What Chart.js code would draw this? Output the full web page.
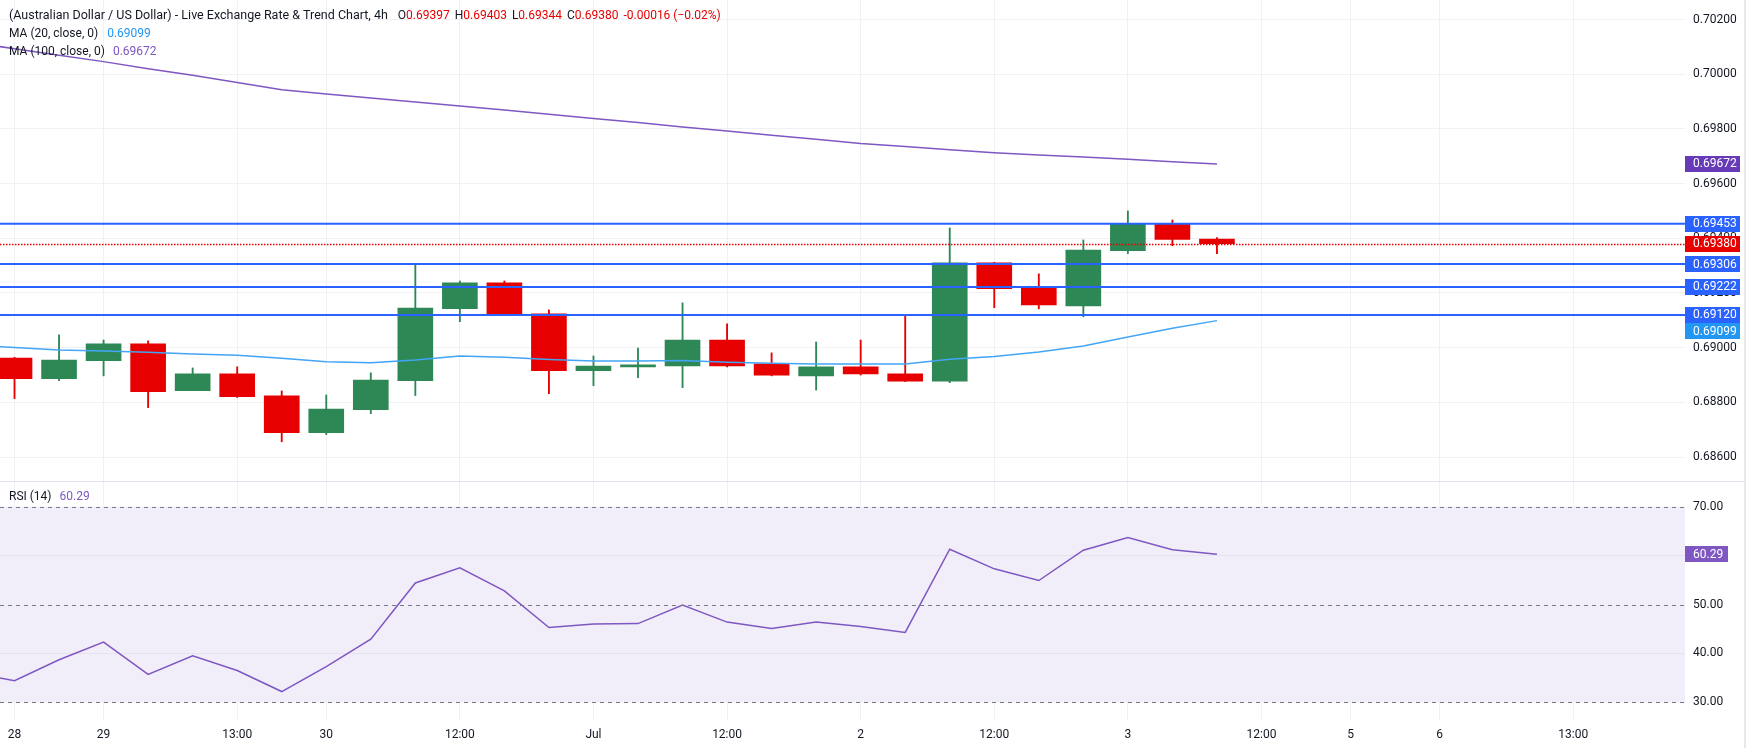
<!DOCTYPE html>
<html>
<head>
<meta charset="utf-8">
<script src="https://cdn.jsdelivr.net/npm/chart.js@4.4.1/dist/chart.umd.min.js"></script>
<style>
    body { margin: 0; background: #ffffff; }
    #wrap { position: relative; width: 1746px; height: 748px; overflow: hidden; }
    #priceChart { position: absolute; left: 0; top: 0; }
    #rsiChart { position: absolute; left: 0; top: 481px; }
</style>
</head>
<body>
<div id="wrap">
    <canvas id="priceChart" width="1746" height="481"></canvas>
    <canvas id="rsiChart" width="1746" height="267"></canvas>
</div>
<script>
// AUD/USD 4h candles, bar 0 = "28"
const opens  = [0.68962, 0.68887, 0.68953, 0.69014, 0.68843, 0.68904, 0.68824, 0.68689, 0.68773, 0.68879,
                0.69143, 0.69237, 0.69124, 0.68916, 0.68930, 0.68933, 0.69028, 0.68941, 0.68897, 0.68930,
                0.68904, 0.68878, 0.69310, 0.69218, 0.69153, 0.69355, 0.69455, 0.69397];
const highs  = [0.68965, 0.69047, 0.69028, 0.69025, 0.68926, 0.68930, 0.68842, 0.68827, 0.68908, 0.69302,
                0.69244, 0.69244, 0.69138, 0.68970, 0.68999, 0.69164, 0.69087, 0.68981, 0.69021, 0.69028,
                0.69121, 0.69438, 0.69312, 0.69270, 0.69394, 0.69500, 0.69467, 0.69403];
const lows   = [0.68814, 0.68879, 0.68897, 0.68781, 0.68843, 0.68818, 0.68656, 0.68682, 0.68759, 0.68825,
                0.69095, 0.69117, 0.68832, 0.68861, 0.68890, 0.68854, 0.68930, 0.68897, 0.68845, 0.68900,
                0.68876, 0.68872, 0.69146, 0.69142, 0.69113, 0.69344, 0.69373, 0.69344];
const closes = [0.68887, 0.68955, 0.69014, 0.68839, 0.68904, 0.68821, 0.68689, 0.68776, 0.68882, 0.69145,
                0.69237, 0.69121, 0.68916, 0.68933, 0.68937, 0.69028, 0.68933, 0.68900, 0.68930, 0.68904,
                0.68878, 0.69310, 0.69216, 0.69156, 0.69357, 0.69455, 0.69396, 0.69380];

// indicator series start one bar before bar 0
const ma20  = [0.69009, 0.69001, 0.68992, 0.68988, 0.68983, 0.68977, 0.68972, 0.68961, 0.68949, 0.68945,
               0.68955, 0.68970, 0.68965, 0.68957, 0.68951, 0.68951, 0.68953, 0.68947, 0.68943, 0.68940,
               0.68940, 0.68940, 0.68958, 0.68968, 0.68984, 0.69006, 0.69039, 0.69071, 0.69099];
const ma100 = [0.70117, 0.70093, 0.70069, 0.70046, 0.70020, 0.69996, 0.69970, 0.69943, 0.69928, 0.69913,
               0.69898, 0.69884, 0.69869, 0.69854, 0.69838, 0.69823, 0.69807, 0.69792, 0.69777, 0.69762,
               0.69747, 0.69736, 0.69724, 0.69713, 0.69705, 0.69697, 0.69689, 0.69680, 0.69672];
const rsi   = [36.1, 34.4, 38.7, 42.3, 35.7, 39.5, 36.5, 32.2, 37.3, 42.9,
               54.4, 57.5, 52.8, 45.3, 46.0, 46.1, 49.9, 46.4, 45.1, 46.4,
               45.5, 44.3, 61.3, 57.3, 54.9, 61.1, 63.7, 61.2, 60.29];
const indicatorStart = -1;

const levels = [0.69453, 0.69306, 0.69222, 0.69120];
const priceTicks = [0.686, 0.688, 0.690, 0.692, 0.694, 0.696, 0.698, 0.700, 0.702];
const rsiTicks = [30, 40, 50, 60, 70];
const rsiDashed = [70, 50, 30];
const timeTickBars = [0, 2, 5, 7, 10, 13, 16, 19, 22, 25, 28, 30, 32, 35];
const timeTickLabels = ['28', '29', '13:00', '30', '12:00', 'Jul', '12:00', '2', '12:00', '3', '12:00', '5', '6', '13:00'];

const UP = '#2e8856';
const DOWN = '#e60000';
const TEXT = '#131722';
const GRID = '#f0f1f4';
const FONT = 'Roboto, "Noto Sans", sans-serif';
const AXIS_W = 61;
const X_MIN = -0.326;
const X_MAX = 37.51;

const candleColors = opens.map((o, i) => closes[i] >= opens[i] ? UP : DOWN);
const indicatorPoints = (arr) => arr.map((v, i) => ({ x: i + indicatorStart, y: v }));

const xTicks = (scale) => { scale.ticks = timeTickBars.map(v => ({ value: v })); };
// keep the plot area flush with the canvas edges
const noPad = (s) => { s.paddingTop = 0; s.paddingBottom = 0; s.paddingLeft = 0; s.paddingRight = 0; };

function drawBadge(ctx, left, yc, w, text, bg) {
    ctx.fillStyle = bg;
    ctx.fillRect(left, Math.round(yc - 8), w, 16);
    ctx.fillStyle = '#ffffff';
    ctx.font = '12px ' + FONT;
    ctx.textAlign = 'left';
    ctx.textBaseline = 'middle';
    ctx.fillText(text, left + 8, yc + 0.5);
}

function drawPieces(ctx, x, y, pieces) {
    ctx.textAlign = 'left';
    ctx.textBaseline = 'middle';
    pieces.forEach(p => {
        if (p.gap) { x += p.gap; return; }
        ctx.font = (p.s || 12) + 'px ' + FONT;
        ctx.fillStyle = p.c;
        ctx.fillText(p.t, x, y);
        x += ctx.measureText(p.t).width;
    });
}

const last = closes.length - 1;

// price pane overlays: levels, last price, badges, legend
const pricePlugin = {
    id: 'priceOverlay',
    afterDatasetsDraw(chart) {
        const ctx = chart.ctx;
        const a = chart.chartArea;
        const y = chart.scales.y;
        ctx.save();
        ctx.beginPath();
        ctx.rect(a.left, a.top, a.right - a.left, a.bottom - a.top);
        ctx.clip();
        ctx.strokeStyle = '#2962ff';
        ctx.lineWidth = 2;
        levels.forEach(v => {
            const py = y.getPixelForValue(v);
            ctx.beginPath();
            ctx.moveTo(a.left, py);
            ctx.lineTo(a.right, py);
            ctx.stroke();
        });
        const lp = Math.round(y.getPixelForValue(closes[last])) + 0.5;
        ctx.strokeStyle = DOWN;
        ctx.lineWidth = 1.3;
        ctx.setLineDash([1.5, 1.5]);
        ctx.beginPath();
        ctx.moveTo(a.left, lp);
        ctx.lineTo(a.right, lp);
        ctx.stroke();
        ctx.restore();
    },
    afterDraw(chart) {
        const ctx = chart.ctx;
        const a = chart.chartArea;
        const y = chart.scales.y;
        ctx.save();
        const badges = [
            { v: ma100[ma100.length - 1], bg: '#673ab7' },
            { v: closes[last], bg: DOWN },
            { v: ma20[ma20.length - 1], bg: '#2196f3' }
        ].concat(levels.map(v => ({ v: v, bg: '#2962ff' })));
        badges.forEach(b => { b.y = y.getPixelForValue(b.v); });
        badges.sort((p, q) => p.y - q.y);
        let prev = -100;
        badges.forEach(b => {
            const yc = Math.max(b.y, prev + 16.5);
            drawBadge(ctx, a.right, yc, 55, b.v.toFixed(5), b.bg);
            prev = yc;
        });

        const chg = closes[last] - closes[last - 1];
        const pct = chg / closes[last - 1] * 100;
        const sign = chg < 0 ? '-' : '+';
        drawPieces(ctx, 9, 16, [
            { t: '(Australian Dollar / US Dollar) - Live Exchange Rate & Trend Chart, 4h', c: TEXT, s: 12.5 }, { gap: 10 },
            { t: 'O', c: TEXT }, { t: opens[last].toFixed(5), c: DOWN }, { gap: 5 },
            { t: 'H', c: TEXT }, { t: highs[last].toFixed(5), c: DOWN }, { gap: 5 },
            { t: 'L', c: TEXT }, { t: lows[last].toFixed(5), c: DOWN }, { gap: 5 },
            { t: 'C', c: TEXT }, { t: closes[last].toFixed(5), c: DOWN }, { gap: 5 },
            { t: sign + Math.abs(chg).toFixed(5) + ' (' + (chg < 0 ? '\u2212' : '+') + Math.abs(pct).toFixed(2) + '%)', c: DOWN }
        ]);
        drawPieces(ctx, 9, 34, [
            { t: 'MA (20, close, 0)', c: TEXT }, { gap: 9 },
            { t: ma20[ma20.length - 1].toFixed(5), c: '#2196f3' }
        ]);
        drawPieces(ctx, 9, 52, [
            { t: 'MA (100, close, 0)', c: TEXT }, { gap: 8 },
            { t: ma100[ma100.length - 1].toFixed(5), c: '#7e57c2' }
        ]);
        ctx.restore();
    }
};

const priceConfig = {
    type: 'bar',
    data: {
        datasets: [
            {
                type: 'line',
                data: indicatorPoints(ma100),
                borderColor: '#7e57c2',
                borderWidth: 1.5,
                pointRadius: 0,
                order: 0
            },
            {
                type: 'line',
                data: indicatorPoints(ma20),
                borderColor: '#42a5f5',
                borderWidth: 1.5,
                pointRadius: 0,
                order: 1
            },
            {
                // candle bodies
                data: opens.map((o, i) => ({ x: i, y: [o, closes[i]] })),
                backgroundColor: candleColors,
                barThickness: 35,
                grouped: false,
                borderWidth: 0,
                order: 2
            },
            {
                // wicks
                data: lows.map((l, i) => ({ x: i, y: [l, highs[i]] })),
                backgroundColor: candleColors,
                barThickness: 1.2,
                grouped: false,
                borderWidth: 0,
                order: 3
            }
        ]
    },
    options: {
        responsive: false,
        animation: false,
        layout: { padding: 0 },
        plugins: { legend: { display: false }, tooltip: { enabled: false } },
        scales: {
            x: {
                type: 'linear',
                min: X_MIN,
                max: X_MAX,
                offset: false,
                afterBuildTicks: xTicks,
                afterFit: (s) => { s.height = 0; noPad(s); },
                ticks: { display: false },
                grid: { color: GRID, offset: false, drawTicks: false },
                border: { display: false }
            },
            y: {
                position: 'right',
                min: 0.685126,
                max: 0.702713,
                afterBuildTicks: (s) => { s.ticks = priceTicks.map(v => ({ value: v })); },
                afterFit: (s) => { s.width = AXIS_W; noPad(s); },
                ticks: {
                    padding: 8,
                    color: TEXT,
                    font: { family: FONT, size: 12 },
                    callback: (v) => Number(v).toFixed(5)
                },
                grid: { color: GRID, drawTicks: false },
                border: { display: false }
            }
        }
    },
    plugins: [pricePlugin]
};

// RSI pane: band, dashed levels, frame lines, badge and title
const rsiPlugin = {
    id: 'rsiOverlay',
    beforeDraw(chart) {
        const ctx = chart.ctx;
        const a = chart.chartArea;
        const y = chart.scales.y;
        const top = y.getPixelForValue(rsiDashed[0]);
        const bottom = y.getPixelForValue(rsiDashed[rsiDashed.length - 1]);
        ctx.save();
        ctx.fillStyle = 'rgba(126, 87, 194, 0.1)';
        ctx.fillRect(a.left, top, a.right - a.left, bottom - top);
        ctx.restore();
    },
    afterDatasetsDraw(chart) {
        const ctx = chart.ctx;
        const a = chart.chartArea;
        const y = chart.scales.y;
        ctx.save();
        ctx.strokeStyle = '#787b86';
        ctx.lineWidth = 1;
        ctx.setLineDash([4, 4]);
        rsiDashed.forEach(v => {
            const py = Math.round(y.getPixelForValue(v)) + 0.5;
            ctx.beginPath();
            ctx.moveTo(a.left, py);
            ctx.lineTo(a.right, py);
            ctx.stroke();
        });
        ctx.restore();
    },
    afterDraw(chart) {
        const ctx = chart.ctx;
        const a = chart.chartArea;
        const y = chart.scales.y;
        const v = rsi[rsi.length - 1];
        ctx.save();
        drawBadge(ctx, a.right, y.getPixelForValue(v), 43, v.toFixed(2), '#7e57c2');
        drawPieces(ctx, 9, 16, [
            { t: 'RSI (14)', c: TEXT }, { gap: 8 },
            { t: v.toFixed(2), c: '#7e57c2' }
        ]);
        ctx.fillStyle = '#e0e3eb';
        ctx.fillRect(0, 0, chart.width, 1);
        ctx.restore();
    }
};

const rsiConfig = {
    type: 'line',
    data: {
        datasets: [{
            data: indicatorPoints(rsi),
            borderColor: '#7e57c2',
            borderWidth: 1.5,
            pointRadius: 0
        }]
    },
    options: {
        responsive: false,
        animation: false,
        layout: { padding: 0 },
        plugins: { legend: { display: false }, tooltip: { enabled: false } },
        scales: {
            x: {
                type: 'linear',
                min: X_MIN,
                max: X_MAX,
                afterBuildTicks: xTicks,
                afterFit: (s) => { s.height = 28; noPad(s); },
                ticks: {
                    autoSkip: false,
                    maxRotation: 0,
                    padding: 8,
                    color: TEXT,
                    font: { family: FONT, size: 12 },
                    callback: (v) => timeTickLabels[timeTickBars.indexOf(v)]
                },
                grid: { color: GRID, drawTicks: false },
                border: { display: false }
            },
            y: {
                position: 'right',
                min: 26.38,
                max: 75.26,
                afterBuildTicks: (s) => { s.ticks = rsiTicks.map(v => ({ value: v })); },
                afterFit: (s) => { s.width = AXIS_W; noPad(s); },
                ticks: {
                    padding: 8,
                    color: TEXT,
                    font: { family: FONT, size: 12 },
                    callback: (v) => Number(v).toFixed(2)
                },
                grid: {
                    drawTicks: false,
                    color: (c) => (c.tick && rsiDashed.indexOf(c.tick.value) >= 0) ? 'rgba(0,0,0,0)' : '#e6e2f0'
                },
                border: { display: false }
            }
        }
    },
    plugins: [rsiPlugin]
};

const priceChart = new Chart(document.getElementById('priceChart').getContext('2d'), priceConfig);
const rsiChart = new Chart(document.getElementById('rsiChart').getContext('2d'), rsiConfig);

// thin frame on the right edge
const frame = document.createElement('div');
frame.style.cssText = 'position:absolute;right:0;top:0;width:2px;height:748px;background:#e6e8ee;';
document.getElementById('wrap').appendChild(frame);
</script>
</body>
</html>
